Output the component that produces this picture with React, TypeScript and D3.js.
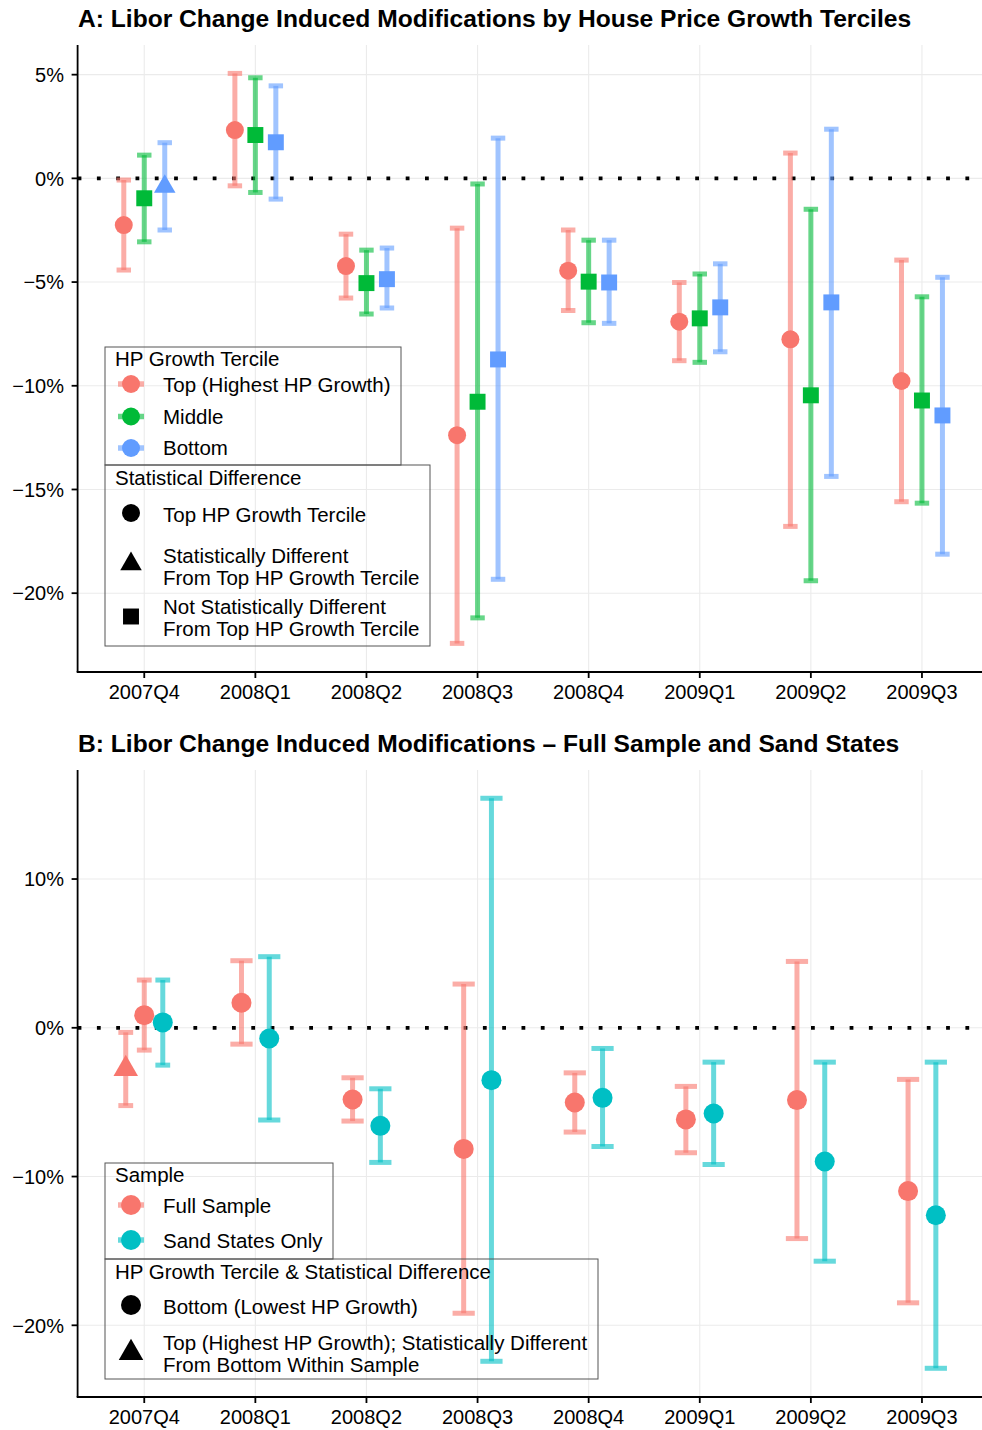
import React from 'react';
import * as d3 from 'd3';

// ---------- data ----------
const quarters = ['2007Q4', '2008Q1', '2008Q2', '2008Q3', '2008Q4', '2009Q1', '2009Q2', '2009Q3'];

// Panel A: HP growth terciles (percent)
const topEst = [-2.25, 2.33, -4.23, -12.38, -4.45, -6.91, -7.76, -9.77];
const topLo = [-4.42, -0.36, -5.77, -22.42, -6.37, -8.79, -16.78, -15.59];
const topHi = [-0.08, 5.06, -2.69, -2.4, -2.49, -5.02, 1.22, -3.94];
const topShape = ['circle', 'circle', 'circle', 'circle', 'circle', 'circle', 'circle', 'circle'];

const midEst = [-0.96, 2.09, -5.05, -10.77, -4.98, -6.75, -10.46, -10.71];
const midLo = [-3.06, -0.68, -6.54, -21.19, -6.96, -8.87, -19.4, -15.66];
const midHi = [1.12, 4.85, -3.46, -0.27, -2.98, -4.61, -1.49, -5.71];
const midShape = ['square', 'square', 'square', 'square', 'square', 'square', 'square', 'square'];

const botEst = [-0.4, 1.74, -4.86, -8.73, -5.02, -6.22, -5.98, -11.43];
const botLo = [-2.49, -1.0, -6.25, -19.33, -6.99, -8.36, -14.37, -18.12];
const botHi = [1.72, 4.46, -3.36, 1.94, -2.98, -4.12, 2.37, -4.77];
const botShape = ['triangle', 'square', 'square', 'square', 'square', 'square', 'square', 'square'];

const ticksA = [5, 0, -5, -10, -15, -20];

// Panel B: full sample vs sand states (percent)
const fullTopEst = [-2.77, null, null, null, null, null, null, null];
const fullTopLo = [-5.23, null, null, null, null, null, null, null];
const fullTopHi = [-0.31, null, null, null, null, null, null, null];
const fullTopShape = ['triangle', '', '', '', '', '', '', ''];

const fullEst = [0.85, 1.68, -4.82, -8.14, -5.02, -6.16, -4.86, -10.98];
const fullLo = [-1.5, -1.1, -6.27, -19.19, -7.01, -8.4, -14.17, -18.49];
const fullHi = [3.21, 4.51, -3.36, 2.94, -3.03, -3.94, 4.46, -3.47];
const fullShape = ['circle', 'circle', 'circle', 'circle', 'circle', 'circle', 'circle', 'circle'];

const sandEst = [0.36, -0.72, -6.59, -3.52, -4.71, -5.76, -8.99, -12.6];
const sandLo = [-2.51, -6.2, -9.05, -22.42, -7.98, -9.19, -15.69, -22.89];
const sandHi = [3.21, 4.78, -4.1, 15.43, -1.39, -2.31, -2.31, -2.31];
const sandShape = ['circle', 'circle', 'circle', 'circle', 'circle', 'circle', 'circle', 'circle'];

const ticksB = [10, 0, -10, -20];

// ---------- style ----------
const FONT = "'Liberation Sans', Arial, Helvetica, sans-serif";
const RED = '#F8766D';
const GREEN = '#00BA38';
const BLUE = '#619CFF';
const TEAL = '#00BFC4';
const GRID = '#EBEBEB';
const LFS = 20.5;

type Series = {
  color: string;
  est: (number | null)[];
  lo: (number | null)[];
  hi: (number | null)[];
  shape: string[];
};

function fmtPct(v: number) {
  return (v < 0 ? '\u2212' + Math.abs(v) : String(v)) + '%';
}

function Marker({ shape, cx, cy, r, color, triW }: { shape: string; cx: number; cy: number; r: number; color: string; triW: number }) {
  if (shape === 'circle') return <circle cx={cx} cy={cy} r={r} fill={color} />;
  if (shape === 'square') {
    const s = r * 1.772;
    return <rect x={cx - s / 2} y={cy - s / 2} width={s} height={s} fill={color} />;
  }
  if (shape === 'triangle') {
    const rr = triW / 2 / 0.866;
    const p = `M${cx},${cy - rr}L${cx + triW / 2},${cy + rr / 2}L${cx - triW / 2},${cy + rr / 2}Z`;
    return <path d={p} fill={color} />;
  }
  return null;
}

type PanelProps = {
  title: string;
  titleY: number;
  top: number;
  bottom: number;
  domain: [number, number];
  ticks: number[];
  series: Series[];
  dodge: number;
  ebWidth: number;
  r: number;
  triW: number;
};

const LEFT = 77.6;
const STEP = 111.1;

function Panel(p: PanelProps) {
  const x = d3.scalePoint<string>().domain(quarters).range([LEFT + 0.6 * STEP, LEFT + 7.6 * STEP]);
  const right = LEFT + 8.2 * STEP;
  const y = d3.scaleLinear().domain(p.domain).range([p.bottom, p.top]);

  const bars: any[] = [];
  const points: any[] = [];
  quarters.forEach((q, qi) => {
    const present = p.series.filter((s) => s.est[qi] != null);
    const n = present.length;
    present.forEach((s, i) => {
      const off = p.dodge * STEP * ((i + 0.5) / n - 0.5);
      const cx = (x(q) as number) + off;
      const capHalf = (p.ebWidth * STEP) / n / 2;
      const yl = y(s.lo[qi] as number);
      const yh = y(s.hi[qi] as number);
      const key = `${qi}-${i}`;
      bars.push(
        <g key={key} stroke={s.color} strokeWidth={5} strokeOpacity={0.6} strokeLinecap="butt">
          <line x1={cx} x2={cx} y1={yh} y2={yl} />
          <line x1={cx - capHalf} x2={cx + capHalf} y1={yh} y2={yh} />
          <line x1={cx - capHalf} x2={cx + capHalf} y1={yl} y2={yl} />
        </g>
      );
      points.push(
        <Marker key={key} shape={s.shape[qi]} cx={cx} cy={y(s.est[qi] as number)} r={p.r} color={s.color} triW={p.triW} />
      );
    });
  });

  return (
    <g>
      <text x={78} y={p.titleY} fontFamily={FONT} fontSize={24.6} fontWeight="bold" fill="#000">
        {p.title}
      </text>
      {p.ticks.map((t) => (
        <line key={'gy' + t} x1={LEFT} x2={right} y1={y(t)} y2={y(t)} stroke={GRID} strokeWidth={1.1} />
      ))}
      {quarters.map((q) => (
        <line key={'gx' + q} x1={x(q)} x2={x(q)} y1={p.top} y2={p.bottom} stroke={GRID} strokeWidth={1.1} />
      ))}
      <line x1={LEFT} x2={right} y1={y(0)} y2={y(0)} stroke="#000" strokeWidth={3.8} strokeDasharray="3.8 15.5" />
      {bars}
      {points}
      <line x1={LEFT} x2={LEFT} y1={p.top} y2={p.bottom} stroke="#000" strokeWidth={1.8} />
      <line x1={LEFT - 0.9} x2={right} y1={p.bottom} y2={p.bottom} stroke="#000" strokeWidth={1.8} />
      {p.ticks.map((t) => (
        <g key={'ty' + t}>
          <line x1={LEFT - 6} x2={LEFT} y1={y(t)} y2={y(t)} stroke="#000" strokeWidth={1.8} />
          <text x={64} y={y(t)} dy="0.36em" textAnchor="end" fontFamily={FONT} fontSize={20} fill="#000">
            {fmtPct(t)}
          </text>
        </g>
      ))}
      {quarters.map((q) => (
        <g key={'tx' + q}>
          <line x1={x(q)} x2={x(q)} y1={p.bottom} y2={p.bottom + 6} stroke="#000" strokeWidth={1.8} />
          <text x={x(q)} y={p.bottom + 27} textAnchor="middle" fontFamily={FONT} fontSize={20} fill="#000">
            {q}
          </text>
        </g>
      ))}
    </g>
  );
}

function LegendText({ x, y, lines, lh = 22 }: { x: number; y: number; lines: string[]; lh?: number }) {
  const y0 = y - ((lines.length - 1) * lh) / 2;
  return (
    <>
      {lines.map((l, i) => (
        <text key={i} x={x} y={y0 + i * lh} dy="0.36em" fontFamily={FONT} fontSize={LFS} fill="#000">
          {l}
        </text>
      ))}
    </>
  );
}

function ColorKey({ cx, cy, color, r }: { cx: number; cy: number; color: string; r: number }) {
  return (
    <g>
      <line x1={cx - 13} x2={cx + 13} y1={cy} y2={cy} stroke={color} strokeOpacity={0.6} strokeWidth={5.5} />
      <circle cx={cx} cy={cy} r={r} fill={color} />
    </g>
  );
}

const titleA = 'A: Libor Change Induced Modifications by House Price Growth Terciles';
const titleB = 'B: Libor Change Induced Modifications \u2013 Full Sample and Sand States';

export default function App() {
  const seriesA: Series[] = [
    { color: RED, est: topEst, lo: topLo, hi: topHi, shape: topShape },
    { color: GREEN, est: midEst, lo: midLo, hi: midHi, shape: midShape },
    { color: BLUE, est: botEst, lo: botLo, hi: botHi, shape: botShape },
  ];
  const seriesB: Series[] = [
    { color: RED, est: fullTopEst, lo: fullTopLo, hi: fullTopHi, shape: fullTopShape },
    { color: RED, est: fullEst, lo: fullLo, hi: fullHi, shape: fullShape },
    { color: TEAL, est: sandEst, lo: sandLo, hi: sandHi, shape: sandShape },
  ];
  const KX = 131;
  const TX = 163;
  const box = { fill: 'none', stroke: '#555', strokeWidth: 1 };
  return (
    <svg width={982} height={1430} style={{ position: 'absolute', left: 0, top: 0, background: '#fff' }}>
      <rect x={0} y={0} width={982} height={1430} fill="#fff" />
      <Panel
        title={titleA}
        titleY={26.5}
        top={45}
        bottom={672}
        domain={[-23.8, 6.43]}
        ticks={ticksA}
        series={seriesA}
        dodge={0.553}
        ebWidth={0.39}
        r={9}
        triW={21.5}
      />
      <Panel
        title={titleB}
        titleY={751.5}
        top={770}
        bottom={1397}
        domain={[-24.82, 17.33]}
        ticks={ticksB}
        series={seriesB}
        dodge={0.5}
        ebWidth={0.4}
        r={10}
        triW={24.5}
      />

      {/* Legends panel A */}
      <rect x={105} y={347} width={296} height={118} {...box} />
      <text x={115} y={359} dy="0.36em" fontFamily={FONT} fontSize={LFS}>HP Growth Tercile</text>
      <ColorKey cx={KX} cy={384} color={RED} r={9} />
      <LegendText x={TX} y={385} lines={['Top (Highest HP Growth)']} />
      <ColorKey cx={KX} cy={416.5} color={GREEN} r={9} />
      <LegendText x={TX} y={417} lines={['Middle']} />
      <ColorKey cx={KX} cy={448} color={BLUE} r={9} />
      <LegendText x={TX} y={448} lines={['Bottom']} />

      <rect x={105} y={465} width={325} height={181} {...box} />
      <text x={115} y={478} dy="0.36em" fontFamily={FONT} fontSize={LFS}>Statistical Difference</text>
      <Marker shape="circle" cx={KX} cy={513} r={9} color="#000" triW={21.5} />
      <LegendText x={TX} y={515} lines={['Top HP Growth Tercile']} />
      <Marker shape="triangle" cx={KX} cy={564} r={9} color="#000" triW={21.5} />
      <LegendText x={TX} y={567} lines={['Statistically Different', 'From Top HP Growth Tercile']} />
      <Marker shape="square" cx={KX} cy={616.5} r={9} color="#000" triW={21.5} />
      <LegendText x={TX} y={618} lines={['Not Statistically Different', 'From Top HP Growth Tercile']} />

      {/* Legends panel B */}
      <rect x={105} y={1163} width={228} height={96} {...box} />
      <text x={115} y={1175} dy="0.36em" fontFamily={FONT} fontSize={LFS}>Sample</text>
      <ColorKey cx={KX} cy={1205} color={RED} r={10} />
      <LegendText x={TX} y={1206} lines={['Full Sample']} />
      <ColorKey cx={KX} cy={1240} color={TEAL} r={10} />
      <LegendText x={TX} y={1241} lines={['Sand States Only']} />

      <rect x={105} y={1259} width={493} height={120} {...box} />
      <text x={115} y={1272} dy="0.36em" fontFamily={FONT} fontSize={LFS}>HP Growth Tercile &amp; Statistical Difference</text>
      <Marker shape="circle" cx={KX} cy={1305} r={10} color="#000" triW={24.5} />
      <LegendText x={TX} y={1307} lines={['Bottom (Lowest HP Growth)']} />
      <Marker shape="triangle" cx={KX} cy={1353} r={10} color="#000" triW={24.5} />
      <LegendText x={TX} y={1354} lines={['Top (Highest HP Growth); Statistically Different', 'From Bottom Within Sample']} />
    </svg>
  );
}
